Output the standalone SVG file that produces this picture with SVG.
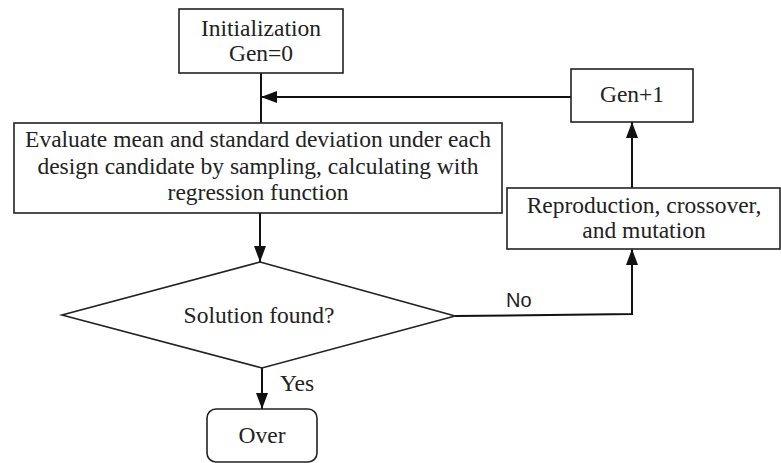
<svg xmlns="http://www.w3.org/2000/svg" width="781" height="463" viewBox="0 0 781 463">
  <defs>
    <marker id="arrow" viewBox="0 0 16 12" refX="16" refY="6" markerWidth="16" markerHeight="12" markerUnits="userSpaceOnUse" orient="auto">
      <path d="M0,0 L16,6 L0,12 Z" fill="#111"/>
    </marker>
  </defs>
  <style>
    .box { fill: #fff; stroke: #222; stroke-width: 1.6; }
    .t { font-family: "Liberation Serif", "Times New Roman", serif; font-size: 23.5px; fill: #222; text-anchor: middle; }
    .lbl { font-family: "Liberation Sans", Arial, sans-serif; font-size: 20px; fill: #222; }
    .edge { fill: none; stroke: #111; stroke-width: 2; }
  </style>
  <rect width="781" height="463" fill="#fff"/>

  <g id="connectors">
    <path class="edge" d="M261,73 L261,123"/>
    <path class="edge" d="M571,97 L261,97" marker-end="url(#arrow)"/>
    <path class="edge" d="M260,213 L260,262" marker-end="url(#arrow)"/>
    <path class="edge" d="M455,316 L632,314 L632,249" marker-end="url(#arrow)"/>
    <path class="edge" d="M632,188 L632,122" marker-end="url(#arrow)"/>
    <path class="edge" d="M262,368 L262,409" marker-end="url(#arrow)"/>
    <text class="lbl" x="506" y="307">No</text>
    <text class="t" x="280" y="391" style="text-anchor:start">Yes</text>
  </g>

  <g id="init">
    <rect class="box" x="179" y="9" width="164" height="64"/>
    <text class="t" x="261" y="36">Initialization</text>
    <text class="t" x="261" y="61">Gen=0</text>
  </g>

  <g id="gen-plus-one">
    <rect class="box" x="571" y="69" width="122" height="53"/>
    <text class="t" x="632" y="102">Gen+1</text>
  </g>

  <g id="evaluate">
    <rect class="box" x="14" y="123" width="488" height="90"/>
    <text class="t" x="258" y="147">Evaluate mean and standard deviation under each</text>
    <text class="t" x="258" y="174">design candidate by sampling, calculating with</text>
    <text class="t" x="258" y="200">regression function</text>
  </g>

  <g id="reproduction">
    <rect class="box" x="507" y="188" width="273" height="61"/>
    <text class="t" x="644" y="213">Reproduction, crossover,</text>
    <text class="t" x="644" y="238">and mutation</text>
  </g>

  <g id="decision">
    <polygon class="box" points="260,262 455,316 262,368 62,315"/>
    <text class="t" x="259" y="323">Solution found?</text>
  </g>

  <g id="over">
    <rect class="box" x="207" y="409" width="110" height="53" rx="9" ry="9"/>
    <text class="t" x="262" y="443">Over</text>
  </g>
</svg>
